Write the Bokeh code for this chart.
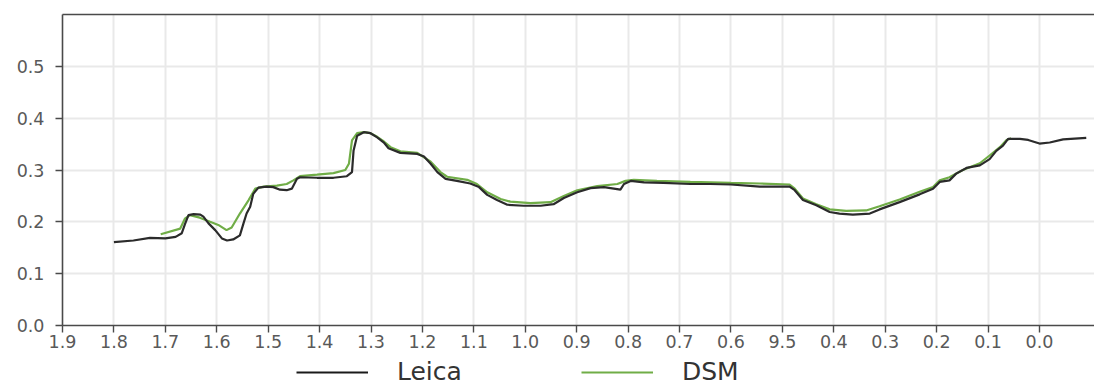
from bokeh.plotting import figure
from bokeh.layouts import column
from bokeh.models import (Range1d, FixedTicker, LinearAxis, Legend, LegendItem,
                          NumeralTickFormatter)
from bokeh.embed import file_html
from bokeh.resources import INLINE

# ---- data ----
leica_x = [1.800, 1.762, 1.730, 1.700, 1.680, 1.668, 1.662, 1.655, 1.645, 1.632,
           1.626, 1.616, 1.603, 1.590, 1.580, 1.568, 1.555, 1.548, 1.542, 1.535,
           1.529, 1.519, 1.503, 1.490, 1.477, 1.464, 1.454, 1.444, 1.438, 1.405,
           1.373, 1.347, 1.337, 1.334, 1.327, 1.314, 1.301, 1.288, 1.275, 1.266,
           1.243, 1.210, 1.197, 1.184, 1.171, 1.155, 1.133, 1.107, 1.090, 1.074,
           1.055, 1.035, 1.003, 0.970, 0.945, 0.925, 0.899, 0.873, 0.847, 0.815,
           0.808, 0.795, 0.769, 0.731, 0.679, 0.640, 0.600, 0.544, 0.486, 0.476,
           0.460, 0.434, 0.408, 0.389, 0.363, 0.330, 0.311, 0.272, 0.233, 0.207,
           0.194, 0.175, 0.162, 0.142, 0.116, 0.097, 0.084, 0.071, 0.061, 0.038,
           0.022, 0.000, -0.020, -0.046, -0.091]
leica_y = [0.161, 0.164, 0.169, 0.168, 0.171, 0.178, 0.195, 0.213, 0.215, 0.214,
           0.210, 0.197, 0.184, 0.168, 0.164, 0.166, 0.174, 0.197, 0.216, 0.229,
           0.254, 0.266, 0.268, 0.267, 0.262, 0.261, 0.264, 0.283, 0.286, 0.285,
           0.285, 0.288, 0.296, 0.337, 0.366, 0.373, 0.371, 0.363, 0.353, 0.342,
           0.333, 0.331, 0.326, 0.312, 0.296, 0.283, 0.279, 0.274, 0.267, 0.252,
           0.242, 0.233, 0.231, 0.231, 0.234, 0.246, 0.257, 0.265, 0.267, 0.262,
           0.273, 0.279, 0.276, 0.275, 0.273, 0.273, 0.272, 0.268, 0.268, 0.261,
           0.242, 0.232, 0.219, 0.216, 0.214, 0.216, 0.224, 0.238, 0.253, 0.264,
           0.277, 0.280, 0.293, 0.304, 0.309, 0.321, 0.337, 0.347, 0.360, 0.360,
           0.358, 0.351, 0.353, 0.359, 0.362]

dsm_x = [1.709, 1.671, 1.662, 1.652, 1.633, 1.613, 1.597, 1.581, 1.571, 1.555,
         1.538, 1.525, 1.509, 1.483, 1.464, 1.451, 1.438, 1.405, 1.373, 1.350,
         1.343, 1.337, 1.327, 1.314, 1.301, 1.288, 1.275, 1.262, 1.243, 1.210,
         1.184, 1.165, 1.152, 1.113, 1.094, 1.074, 1.048, 1.029, 0.990, 0.951,
         0.925, 0.899, 0.860, 0.821, 0.805, 0.789, 0.744, 0.679, 0.640, 0.600,
         0.544, 0.486, 0.476, 0.460, 0.434, 0.408, 0.376, 0.337, 0.311, 0.272,
         0.233, 0.207, 0.194, 0.175, 0.149, 0.116, 0.097, 0.077, 0.064, 0.055]
dsm_y = [0.176, 0.187, 0.206, 0.213, 0.208, 0.200, 0.194, 0.184, 0.189, 0.216,
         0.242, 0.264, 0.268, 0.270, 0.273, 0.280, 0.288, 0.291, 0.294, 0.300,
         0.312, 0.357, 0.371, 0.373, 0.371, 0.364, 0.355, 0.344, 0.336, 0.333,
         0.316, 0.296, 0.287, 0.281, 0.273, 0.257, 0.244, 0.239, 0.236, 0.238,
         0.250, 0.261, 0.269, 0.273, 0.279, 0.281, 0.279, 0.277, 0.276, 0.275,
         0.274, 0.272, 0.264, 0.245, 0.234, 0.224, 0.221, 0.222, 0.230, 0.243,
         0.258, 0.267, 0.280, 0.286, 0.300, 0.313, 0.328, 0.344, 0.358, 0.361]

x_ticks = [1.9, 1.8, 1.7, 1.6, 1.5, 1.4, 1.3, 1.2, 1.1, 1.0,
           0.9, 0.8, 0.7, 0.6, 0.5, 0.4, 0.3, 0.2, 0.1, 0.0]
x_tick_labels = ["1.9", "1.8", "1.7", "1.6", "1.5", "1.4", "1.3", "1.2", "1.1", "1.0",
                 "0.9", "0.8", "0.7", "0.6", "9.5", "0.4", "0.3", "0.2", "0.1", "0.0"]
y_ticks = [0.0, 0.1, 0.2, 0.3, 0.4, 0.5]
y_tick_labels = ["0.0", "0.1", "0.2", "0.3", "0.4", "0.5"]
series_names = ["Leica", "DSM"]

LEICA_COLOR = "#2b2b2b"
DSM_COLOR = "#70ad47"
AXIS_COLOR = "#4a4a4a"
TICK_FONT = "DejaVu Sans"

p = figure(width=1094, height=355, output_backend="svg", toolbar_location=None,
           x_range=Range1d(1.9, -0.107), y_range=Range1d(0.0, 0.6),
           min_border_left=62, min_border_right=0, min_border_top=14,
           min_border_bottom=30)
p.outline_line_color = None
p.background_fill_color = "white"
p.border_fill_color = "white"

# axes
for ax in p.xaxis:
    ax.ticker = FixedTicker(ticks=x_ticks)
    ax.major_label_overrides = {t: l for t, l in zip(x_ticks, x_tick_labels)}
    ax.formatter = NumeralTickFormatter(format="0.0")
for ax in p.yaxis:
    ax.ticker = FixedTicker(ticks=y_ticks)
    ax.major_label_overrides = {t: l for t, l in zip(y_ticks, y_tick_labels)}
    ax.formatter = NumeralTickFormatter(format="0.0")

for ax in list(p.xaxis) + list(p.yaxis):
    ax.axis_line_color = AXIS_COLOR
    ax.axis_line_width = 1.6
    ax.major_tick_line_color = AXIS_COLOR
    ax.major_tick_line_width = 1.4
    ax.major_tick_out = 7
    ax.major_tick_in = 0
    ax.minor_tick_line_color = None
    ax.major_label_text_font = TICK_FONT
    ax.major_label_text_font_size = "17.5px"
    ax.major_label_text_color = "#595959"
p.xaxis.major_label_standoff = 2
p.yaxis.major_label_standoff = 11

# top border line
top_axis = LinearAxis(ticker=FixedTicker(ticks=[]), axis_line_color=AXIS_COLOR,
                      axis_line_width=1.6, major_tick_line_color=None,
                      minor_tick_line_color=None, major_label_text_font_size="0px")
p.add_layout(top_axis, "above")

# grid
p.xgrid.ticker = FixedTicker(ticks=x_ticks)
p.ygrid.ticker = FixedTicker(ticks=y_ticks)
p.xgrid.grid_line_color = "#e9e9e9"
p.ygrid.grid_line_color = "#e9e9e9"
p.xgrid.grid_line_width = 2
p.ygrid.grid_line_width = 2

# lines
p.line(dsm_x, dsm_y, line_color=DSM_COLOR, line_width=2.2)
p.line(leica_x, leica_y, line_color=LEICA_COLOR, line_width=2.2)

# legend strip below the chart
lg = figure(width=1094, height=30, output_backend="svg", toolbar_location=None,
            x_range=Range1d(1.9, -0.107), y_range=Range1d(5.0, 6.0),
            x_axis_type=None, y_axis_type=None, min_border=0)
lg.outline_line_color = None
lg.xgrid.visible = False
lg.ygrid.visible = False
l_leica = lg.line(leica_x, leica_y, line_color="#1a1a1a", line_width=2.2)
l_dsm = lg.line(dsm_x, dsm_y, line_color=DSM_COLOR, line_width=2.2)

legend = Legend(items=[LegendItem(label=series_names[0], renderers=[l_leica]),
                       LegendItem(label=series_names[1], renderers=[l_dsm])],
                orientation="horizontal", location=(234, -1),
                glyph_width=72, glyph_height=20, label_standoff=29, spacing=119,
                padding=0, margin=0, border_line_color=None,
                background_fill_alpha=0.0,
                label_text_font=TICK_FONT, label_text_font_size="25px",
                label_text_color="#333333")
lg.add_layout(legend, "center")

layout = column(p, lg, spacing=0)
open("out.html", "w").write(file_html(layout, INLINE))
